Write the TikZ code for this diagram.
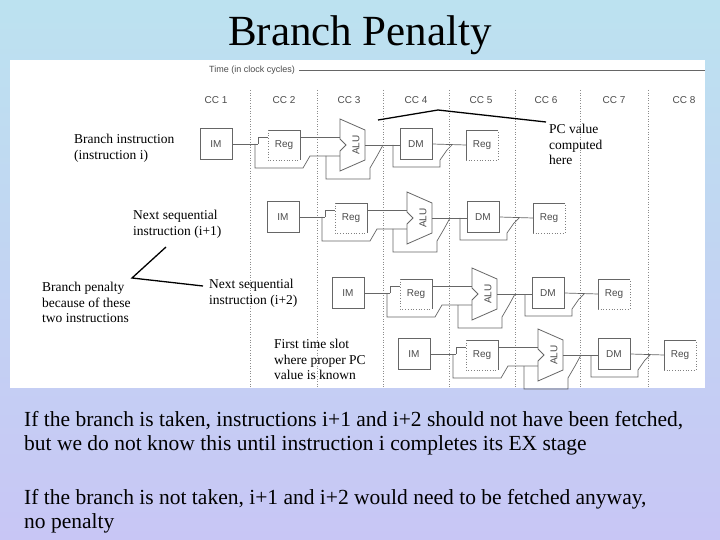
\documentclass[tikz,border=0pt]{standalone}
\usepackage{fontspec}
\setmainfont{Liberation Serif}
\newfontfamily\dsans{Liberation Sans}
\begin{document}
\begin{tikzpicture}[x=1pt,y=-1pt,
  pl/.style={draw=black!60,line width=0.7pt},
  bx/.style={draw=black!60,line width=0.8pt,minimum width=32pt,minimum height=31pt,inner sep=0pt,font=\dsans\fontsize{10}{10}\selectfont,text=black!70},
  dl/.style={draw=black!45,line width=0.6pt,dotted},
  lab/.style={font=\fontsize{13.5}{15.5}\selectfont,align=left,anchor=north west,inner sep=0pt},
  ann/.style={draw=black,line width=1.3pt}]
\definecolor{bgtop}{RGB}{188,226,240}
\definecolor{bgbot}{RGB}{200,198,245}
\useasboundingbox (0,0) rectangle (720,540);
\shade[top color=bgtop,bottom color=bgbot] (0,0) rectangle (720,540);
\fill[white] (10,60) rectangle (705,388);
\node[font=\fontsize{43}{43}\selectfont] (title) at (360,35) {Branch Penalty};
% time axis
\node[font=\dsans\fontsize{9}{9}\selectfont,text=black!70,anchor=west,inner sep=0pt] (time) at (209,70) {Time (in clock cycles)};
\coordinate (tend) at (705,70);
\draw[black!60,line width=0.8pt] (time.east)++(4,0) -- (tend);
\foreach \x/\n in {216/1,284/2,349/3,416/4,481/5,546/6,614/7,684/8}
  \node[font=\dsans\fontsize{10}{10}\selectfont,text=black!70] (cc\n) at (\x,100) {CC \n};
\foreach \x in {250,317,383,449,515,580,648}
  \draw[dl] (\x,90) -- (\x,388);
% pipeline rows
\foreach \r/\ox/\oy in {1/216/144, 2/283/217, 3/348/293, 4/414/354}{
 \begin{scope}[shift={(\ox-216,\oy-144)}]
  \node[bx] (im\r) at (216,144) {IM};
  \node[bx,draw=none] (rg\r) at (284,145) {Reg};
  \draw[black!60,line width=0.8pt] (268,130) -- (300,130) -- (300,160);
  \draw[black!50,dotted,line width=0.7pt] (268,130) -- (268,160) -- (300,160);
  \draw[pl] (im\r.east) -- (258,144);
  \draw[pl] (258,144) -- (258,137) -- (268,137);
  \draw[pl] (255,144) -- (255,168) -- (303,168) -- (310,156) -- (345,156);
  \draw[pl] (300,137) -- (345,137);
  \draw[draw=black!60,fill=white,line width=0.8pt] (340,119) -- (365,130) -- (365,160) -- (340,171) -- (340,151) -- (346,145) -- (340,139) -- cycle;
  \node[font=\dsans\fontsize{10}{10}\selectfont,text=black!70,rotate=90] (alu\r) at (356,145) {ALU};
  \draw[pl] (365,145) -- (400,145);
  \draw[pl] (326,156) -- (326,179) -- (370,179) -- (370,168) -- (377,156) -- (383,145);
  \node[bx] (dm\r) at (416,144) {DM};
  \draw[pl] (393,145) -- (393,167) -- (440,167) -- (440,160) -- (447,150) -- (452,145);
  \draw[pl] (dm\r.east) -- (466,145);
  \node[bx,draw=none] (wb\r) at (482,145) {Reg};
  \draw[black!60,line width=0.8pt] (498,130) -- (466,130) -- (466,160);
  \draw[black!50,dotted,line width=0.7pt] (466,160) -- (498,160) -- (498,130);
 \end{scope}}
% labels
\node[lab] (l1) at (74,134) {Branch instruction\\(instruction i)};
\node[lab] (l2) at (133,210) {Next sequential\\instruction (i+1)};
\node[lab] (l3) at (42,282) {Branch penalty\\because of these\\two instructions};
\node[lab] (l4) at (209,279) {Next sequential\\instruction (i+2)};
\node[lab] (l5) at (274,339) {First time slot\\where proper PC\\value is known};
\node[lab] (l6) at (549,124) {PC value\\computed\\here};
\coordinate (bp) at (132,278);
\coordinate (bp1) at (166,247);
\coordinate (bp2) at (203,286);
\draw[ann] (bp1) -- (bp) -- (bp2);
\coordinate (pc0) at (378,120);
\coordinate (pc1) at (438,110);
\coordinate (pc2) at (546,122);
\draw[ann] (pc0) -- (pc1) -- (pc2);
% bottom text
\node[font=\fontsize{21.5}{24}\selectfont,align=left,anchor=north west,inner sep=0pt] (t1) at (24,411) {If the branch is taken, instructions i+1 and i+2 should not have been fetched,\\but we do not know this until instruction i completes its EX stage};
\node[font=\fontsize{21.5}{24}\selectfont,align=left,anchor=north west,inner sep=0pt] (t2) at (24,489) {If the branch is not taken, i+1 and i+2 would need to be fetched anyway,\\no penalty};
\end{tikzpicture}
\end{document}
